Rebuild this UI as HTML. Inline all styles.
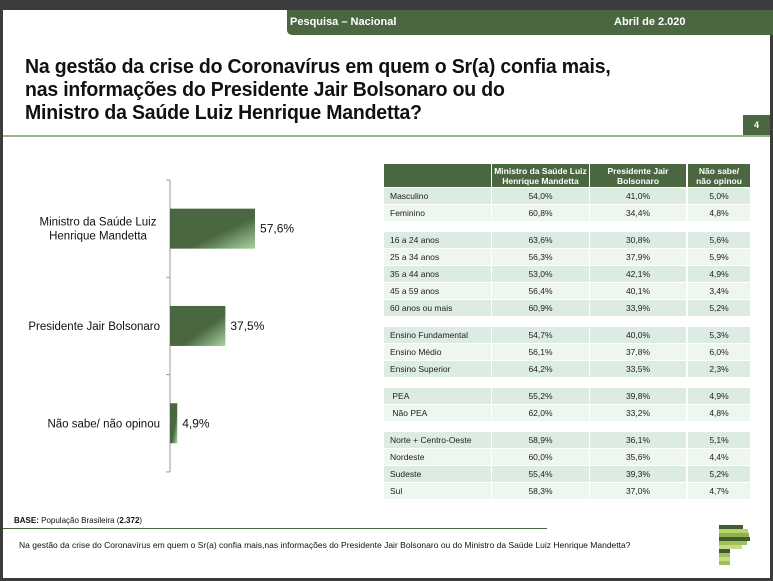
<!DOCTYPE html>
<html><head><meta charset="utf-8">
<style>
*{margin:0;padding:0;box-sizing:border-box}
body{width:773px;height:581px;background:#3c3c3c;position:relative;overflow:hidden;font-family:"Liberation Sans",sans-serif}
#slide{position:absolute;left:3px;top:10px;width:767px;height:568px;background:#fff}
.abs{position:absolute}
#hdr{left:287px;top:10px;width:486px;height:25px;background:#4a6741;border-bottom-left-radius:5px;color:#fff;font-weight:bold;font-size:11px}
#title{left:25px;top:55px;font-size:20.5px;font-weight:bold;color:#111;line-height:23px;letter-spacing:-0.2px;transform:scaleX(0.95);transform-origin:left top;white-space:nowrap}
.cell{position:absolute;font-size:8.5px;color:#222;line-height:17px}
.hcell{position:absolute;background:#4a6741;color:#fff;font-size:8.5px;font-weight:bold;text-align:center;line-height:10px;padding-top:2px}
</style></head><body>
<div id="slide"></div>
<div id="hdr" class="abs">
<span class="abs" style="left:3px;top:6px">Pesquisa – Nacional</span>
<span class="abs" style="left:327px;top:6px">Abril de 2.020</span>
</div>
<div id="title" class="abs">Na gestão da crise do Coronavírus em quem o Sr(a) confia mais,<br>nas informações do Presidente Jair Bolsonaro ou do<br>Ministro da Saúde Luiz Henrique Mandetta?</div>
<div class="abs" style="left:743px;top:115px;width:27px;height:21px;background:#4a6741;color:#fff;font-size:9px;font-weight:bold;text-align:center;line-height:21px">4</div>
<div class="abs" style="left:3px;top:135px;width:767px;height:2px;background:#9bb58a"></div>

<svg class="abs" style="left:0;top:0" width="380" height="500">
<defs><linearGradient id="g" x1="0" y1="0" x2="1" y2="1">
<stop offset="0.6" stop-color="#4a6741"/><stop offset="1" stop-color="#a9d3a0"/></linearGradient></defs>
<g id="bars"></g>
</svg>

<div id="table"></div>

<div class="abs" style="left:14px;top:516px;font-size:8px;color:#111"><b>BASE:</b> População Brasileira (<b>2.372</b>)</div>
<div class="abs" style="left:3px;top:528px;width:544px;height:1px;background:#4a6741"></div>
<div class="abs" style="left:19px;top:540px;font-size:8.6px;color:#111;white-space:nowrap;transform:scaleX(0.99);transform-origin:left top">Na gestão da crise do Coronavírus em quem o Sr(a) confia mais,nas informações do Presidente Jair Bolsonaro ou do Ministro da Saúde Luiz Henrique Mandetta?</div>
<svg class="abs" style="left:718px;top:521px" width="34" height="50">
<rect x="1" y="4" width="24" height="4" fill="#3f5d2f"/><rect x="1" y="8" width="29" height="4" fill="#b9d36b"/>
<rect x="1" y="12" width="30" height="4" fill="#8fb04c"/><rect x="1" y="16" width="31" height="4" fill="#3f5d2f"/>
<rect x="1" y="20" width="28" height="4" fill="#9fc05a"/><rect x="1" y="24" width="23" height="4" fill="#c5dc85"/>
<rect x="1" y="28" width="11" height="4" fill="#3f5d2f"/><rect x="1" y="32" width="11" height="4" fill="#9fc05a"/><rect x="1" y="36" width="11" height="4" fill="#c5dc85"/><rect x="1" y="40" width="11" height="4" fill="#9fc05a"/>
</svg>

<script>
const categories=["Ministro da Saúde Luiz|Henrique Mandetta","Presidente Jair Bolsonaro","Não sabe/ não opinou"];
const values=[57.6,37.5,4.9];
const valueLabels=["57,6%","37,5%","4,9%"];
const NS="http://www.w3.org/2000/svg";
const g=document.getElementById('bars');
const x0=170, pxPer=1.476, top0=180, band=97.3;
function xs(v){return x0+v*pxPer;}
function yc(i){return top0+band*(i+0.5);}
function mk(t,a){const e=document.createElementNS(NS,t);for(const k in a)e.setAttribute(k,a[k]);g.appendChild(e);return e;}
const ax=mk('line',{x1:x0,y1:top0,x2:x0,y2:top0+band*3,stroke:'#999','stroke-width':1});


for(let i=0;i<=3;i++){const t=mk('line',{x1:x0-4,x2:x0,y1:top0+band*i,y2:top0+band*i,stroke:'#999'});

}
values.forEach((v,i)=>{
 const r=mk('rect',{x:x0,y:yc(i)-20,width:xs(v)-x0,height:40,fill:'url(#g)'});
 
 
 const vl=mk('text',{x:xs(v)+5,y:yc(i)+4,'font-size':12,fill:'#111','font-family':'Liberation Sans'});
 vl.textContent=valueLabels[i];
 
 
 const parts=categories[i].split('|');
 parts.forEach((p,j)=>{
  const c=mk('text',{x:160,y:yc(i)+4+(j-(parts.length-1)/2)*14,'font-size':11.5,fill:'#111','text-anchor':(parts.length>1?'middle':'end'),'font-family':'Liberation Sans'});
  if(parts.length>1)c.setAttribute('x',98);
  c.textContent=p;
  
  
 });
});

const rowLabels=["Masculino","Feminino","","16 a 24 anos","25 a 34 anos","35 a 44 anos","45 a 59 anos","60 anos ou mais","","Ensino Fundamental","Ensino Médio","Ensino Superior",""," PEA"," Não PEA","","Norte + Centro-Oeste","Nordeste","Sudeste","Sul"];
const colMandetta=["54,0%","60,8%","","63,6%","56,3%","53,0%","56,4%","60,9%","","54,7%","56,1%","64,2%","","55,2%","62,0%","","58,9%","60,0%","55,4%","58,3%"];
const colBolsonaro=["41,0%","34,4%","","30,8%","37,9%","42,1%","40,1%","33,9%","","40,0%","37,8%","33,5%","","39,8%","33,2%","","36,1%","35,6%","39,3%","37,0%"];
const colNaoSabe=["5,0%","4,8%","","5,6%","5,9%","4,9%","3,4%","5,2%","","5,3%","6,0%","2,3%","","4,9%","4,8%","","5,1%","4,4%","5,2%","4,7%"];
const headers=["","Ministro da Saúde Luiz<br>Henrique Mandetta","Presidente Jair<br>Bolsonaro","Não sabe/<br>não opinou"];
const colX=[384,492,590,688], colW=[107,97,96,62];
const tb=document.getElementById('table');
headers.forEach((h,c)=>{const d=document.createElement('div');d.className='hcell';
 d.style.cssText=`left:${colX[c]}px;top:164px;width:${colW[c]}px;height:23px`;d.innerHTML=h;
 
 
 tb.appendChild(d);});
let y=188, alt=0;
rowLabels.forEach((lab,r)=>{
 if(lab===""){y+=10;alt=0;return;}
 const cols=[lab,colMandetta[r],colBolsonaro[r],colNaoSabe[r]];
 const bg=alt%2===0?'#dcece2':'#eef6f0';
 cols.forEach((t,c)=>{const d=document.createElement('div');d.className='cell';
  d.style.cssText=`left:${colX[c]}px;top:${y}px;width:${colW[c]}px;height:16px;line-height:16px;background:${bg};text-align:${c===0?'left':'center'};padding-left:${c===0?6:0}px;white-space:pre`;
  d.textContent=t;
  
  
  tb.appendChild(d);});
 y+=17;alt++;
});
</script>
</body></html>
